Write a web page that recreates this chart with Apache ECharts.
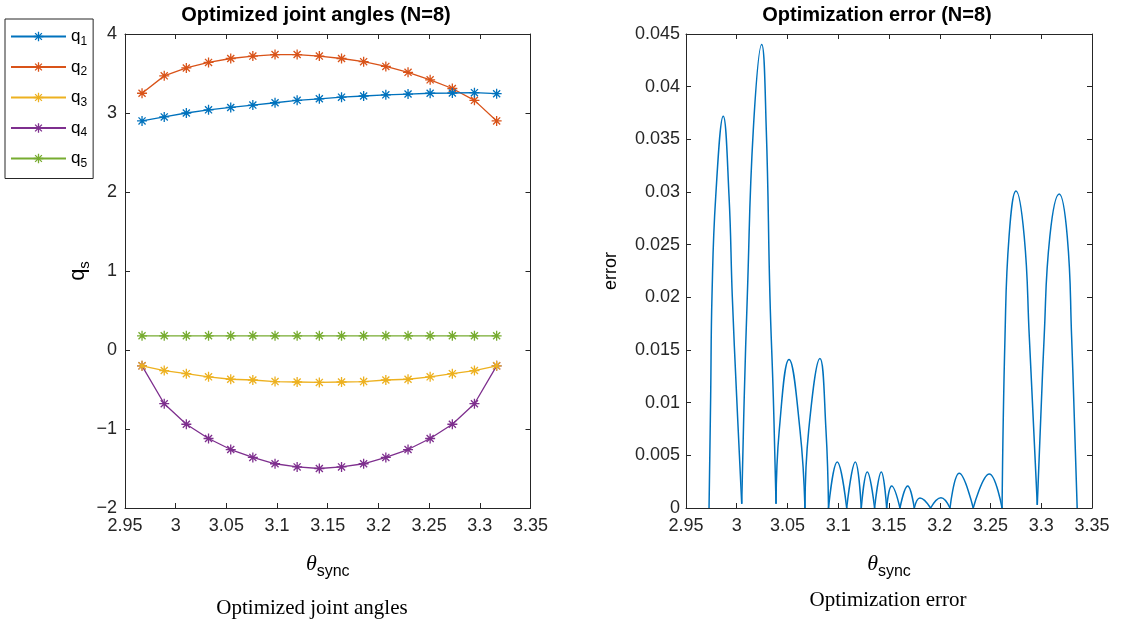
<!DOCTYPE html>
<html>
<head>
<meta charset="utf-8">
<script src="https://cdn.jsdelivr.net/npm/echarts@6/dist/echarts.min.js"></script>
<style>
html,body{margin:0;padding:0;background:#fff;}
#chart{width:1122px;height:623px;}
</style>
</head>
<body>
<div id="chart"></div>
<script>
// ---------- data ----------
const thetaJoint = [2.9668, 2.9887, 3.0105, 3.0324, 3.0543, 3.0761, 3.0980, 3.1198, 3.1417, 3.1636, 3.1854, 3.2073, 3.2292, 3.2510, 3.2729, 3.2947, 3.3166];
const q1 = [2.90, 2.95, 3.00, 3.04, 3.07, 3.10, 3.13, 3.16, 3.18, 3.20, 3.215, 3.23, 3.24, 3.25, 3.253, 3.257, 3.244];
const q2 = [3.25, 3.47, 3.57, 3.64, 3.69, 3.72, 3.74, 3.74, 3.72, 3.69, 3.65, 3.59, 3.515, 3.42, 3.31, 3.16, 2.90];
const q3 = [-0.20, -0.26, -0.30, -0.34, -0.37, -0.38, -0.40, -0.405, -0.41, -0.405, -0.40, -0.38, -0.37, -0.34, -0.30, -0.26, -0.20];
const q4 = [-0.20, -0.68, -0.94, -1.12, -1.26, -1.36, -1.44, -1.48, -1.50, -1.48, -1.44, -1.36, -1.26, -1.12, -0.94, -0.68, -0.20];
const q5 = [0.18, 0.18, 0.18, 0.18, 0.18, 0.18, 0.18, 0.18, 0.18, 0.18, 0.18, 0.18, 0.18, 0.18, 0.18, 0.18, 0.18];
const jointNames = ['1', '2', '3', '4', '5'];

// error curve: arcs separated by null
const errTheta = [
  2.9727, 2.9743, 2.9756, 2.9793, 2.9867, 2.9924, 2.9956, 2.9999, 3.0049, null,
  3.0049, 3.0074, 3.0104, 3.0163, 3.0246, 3.0291, 3.0327, 3.0360, 3.0387, null,
  3.0387, 3.0419, 3.0515, 3.0623, 3.0672, null,
  3.0672, 3.0709, 3.0820, 3.0879, 3.0904, null,
  3.0904, 3.0990, 3.1083, null,
  3.1083, 3.1168, 3.1227, null,
  3.1227, 3.1286, 3.1358, null,
  3.1358, 3.1424, 3.1477, null,
  3.1477, 3.1526, 3.1608, null,
  3.1608, 3.1684, 3.1749, null,
  3.1749, 3.1805, 3.1910, null,
  3.1910, 3.2012, 3.2101, null,
  3.2101, 3.2192, 3.2330, null,
  3.2330, 3.2488, 3.2614, null,
  3.2614, 3.2643, 3.2683, 3.2751, 3.2832, 3.2882, 3.2961, null,
  3.2961, 3.3029, 3.3085, 3.3177, 3.3256, 3.3299, 3.3354
];
const errValue = [
  0, 0.0106, 0.0201, 0.0296, 0.0372, 0.0296, 0.0201, 0.0106, 0.0004, null,
  0.0004, 0.0106, 0.0201, 0.0359, 0.0440, 0.0359, 0.0201, 0.0106, 0.0004, null,
  0.0004, 0.0074, 0.0141, 0.0074, 0, null,
  0, 0.0074, 0.0142, 0.0074, 0, null,
  0, 0.00437, 0, null,
  0, 0.00437, 0, null,
  0, 0.00342, 0, null,
  0, 0.00342, 0, null,
  0, 0.00209, 0, null,
  0, 0.00209, 0, null,
  0, 0.00095, 0, null,
  0, 0.00098, 0, null,
  0, 0.00329, 0, null,
  0, 0.00323, 0, null,
  0, 0.0163, 0.0258, 0.0301, 0.0258, 0.0163, 0.0003, null,
  0.0003, 0.0163, 0.0258, 0.0298, 0.0258, 0.0163, 0
];

const xTickMin = 2.95, xTickMax = 3.35, xTickStep = 0.05;
const qTickMin = -2, qTickMax = 4, qTickStep = 1;
const eTickMin = 0, eTickMax = 0.045, eTickStep = 0.005;

// ---------- styling ----------
const AX = '#262626';
const colors = ['#0072BD', '#D95319', '#EDB120', '#7E2F8E', '#77AC30'];
const SANS = '"Liberation Sans", Arial, Helvetica, sans-serif';
const SERIF = '"Liberation Serif", "Times New Roman", serif';
const star = 'path://M0,-5L0,5M-5,0L5,0M-3.54,-3.54L3.54,3.54M-3.54,3.54L3.54,-3.54';

function axisBase(extra) {
  return Object.assign({
    type: 'value',
    axisLine: { show: true, onZero: false, lineStyle: { color: AX, width: 1 } },
    axisTick: { show: true, inside: true, length: 5, lineStyle: { color: AX, width: 1 } },
    axisLabel: { show: true, color: AX, fontSize: 18, fontFamily: SANS },
    splitLine: { show: false }
  }, extra);
}
function noLabel(a) { a.axisLabel = { show: false }; return a; }
const minusFmt = v => String(+v.toFixed(6)).replace('-', '\u2212');

const thetaName = {
  name: '{th|\u03b8}{sub|sync}',
  nameLocation: 'middle',
  nameGap: 40,
  nameTextStyle: {
    rich: {
      th: { fontFamily: SERIF, fontStyle: 'italic', fontSize: 22, color: '#000' },
      sub: { fontFamily: SANS, fontSize: 16, color: '#000', padding: [16, 0, 0, 0] }
    }
  }
};

const xAxes = [
  axisBase(Object.assign({ gridIndex: 0, position: 'bottom', min: xTickMin, max: xTickMax, interval: xTickStep }, thetaName)),
  noLabel(axisBase({ gridIndex: 0, position: 'top', min: xTickMin, max: xTickMax, interval: xTickStep })),
  axisBase(Object.assign({ gridIndex: 1, position: 'bottom', min: xTickMin, max: xTickMax, interval: xTickStep }, thetaName)),
  noLabel(axisBase({ gridIndex: 1, position: 'top', min: xTickMin, max: xTickMax, interval: xTickStep }))
];
xAxes[0].axisLabel.margin = 9;
xAxes[2].axisLabel.margin = 9;

const yAxes = [
  axisBase({
    gridIndex: 0, position: 'left', min: qTickMin, max: qTickMax, interval: qTickStep,
    name: '{q|q}{s|s}', nameLocation: 'middle', nameGap: 30, nameRotate: 90,
    nameTextStyle: { rich: {
      q: { fontFamily: SANS, fontSize: 22, color: '#000' },
      s: { fontFamily: SANS, fontSize: 15, color: '#000', padding: [14, 0, 0, 0] }
    } }
  }),
  noLabel(axisBase({ gridIndex: 0, position: 'right', min: qTickMin, max: qTickMax, interval: qTickStep })),
  axisBase({
    gridIndex: 1, position: 'left', min: eTickMin, max: eTickMax, interval: eTickStep,
    name: 'error', nameLocation: 'middle', nameGap: 66, nameRotate: 90,
    nameTextStyle: { fontFamily: SANS, fontSize: 18, color: '#000' }
  }),
  noLabel(axisBase({ gridIndex: 1, position: 'right', min: eTickMin, max: eTickMax, interval: eTickStep }))
];
yAxes[0].axisLabel.formatter = minusFmt;
yAxes[0].axisLabel.margin = 8;
yAxes[2].axisLabel.margin = 6;

const qs = [q1, q2, q3, q4, q5];
const series = qs.map((arr, i) => ({
  name: jointNames[i],
  type: 'line',
  xAxisIndex: 0, yAxisIndex: 0,
  data: thetaJoint.map((t, k) => [t, arr[k]]),
  symbol: star,
  symbolSize: 10,
  showAllSymbol: true,
  lineStyle: { color: colors[i], width: 1.3 },
  itemStyle: { color: colors[i], borderColor: colors[i], borderWidth: 1.3 },
  emphasis: { disabled: true },
  animation: false,
  z: 2 + (4 - i)
}));

// build error segments
let seg = [];
const segments = [];
errTheta.forEach((t, k) => {
  if (t === null) { segments.push(seg); seg = []; }
  else seg.push([t, errValue[k]]);
});
if (seg.length) segments.push(seg);
segments.forEach(s => {
  series.push({
    type: 'line', xAxisIndex: 2, yAxisIndex: 2, data: s,
    smooth: 0.45, symbol: 'none',
    lineStyle: { color: '#0072BD', width: 1.5 },
    emphasis: { disabled: true }, animation: false
  });
});

const option = {
  backgroundColor: '#fff',
  animation: false,
  grid: [
    { left: 125, right: 1122 - 530.5, top: 34, bottom: 623 - 508, containLabel: false },
    { left: 686, right: 1122 - 1092, top: 34, bottom: 623 - 508, containLabel: false }
  ],
  xAxis: xAxes,
  yAxis: yAxes,
  legend: {
    data: jointNames,
    orient: 'vertical',
    left: 5, top: 19,
    padding: [9, 6, 9, 5],
    itemWidth: 55, itemHeight: 12, itemGap: 11, itemTextGap: 5,
    itemStyle: { borderWidth: 1.3 },
    borderColor: AX, borderWidth: 1,
    formatter: n => '{q|q}{s|' + n + '}',
    textStyle: {
      rich: {
        q: { fontFamily: SANS, fontSize: 17, color: '#000' },
        s: { fontFamily: SANS, fontSize: 12, color: '#000', padding: [10, 0, 0, 0] }
      }
    }
  },
  graphic: [
    { type: 'text', x: 316, y: 15, style: { text: 'Optimized joint angles (N=8)', font: 'bold 20px ' + SANS, fill: '#000', textAlign: 'center', textVerticalAlign: 'middle' } },
    { type: 'text', x: 877, y: 15, style: { text: 'Optimization error (N=8)', font: 'bold 20px ' + SANS, fill: '#000', textAlign: 'center', textVerticalAlign: 'middle' } },
    { type: 'text', x: 312, y: 608, style: { text: 'Optimized joint angles', font: '21px ' + SERIF, fill: '#000', textAlign: 'center', textVerticalAlign: 'middle' } },
    { type: 'text', x: 888, y: 600, style: { text: 'Optimization error', font: '21px ' + SERIF, fill: '#000', textAlign: 'center', textVerticalAlign: 'middle' } }
  ],
  series: series
};

const chart = echarts.init(document.getElementById('chart'), null, { renderer: 'canvas' });
chart.setOption(option);
</script>
</body>
</html>
